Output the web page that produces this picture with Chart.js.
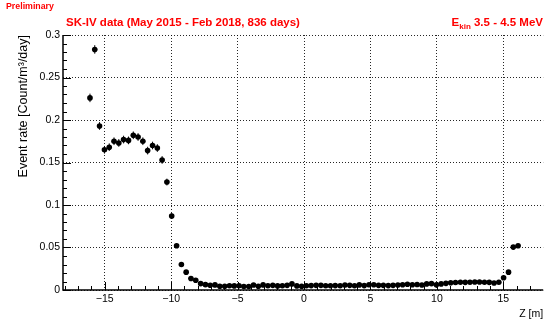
<!DOCTYPE html>
<html lang="en">
<head>
    <meta charset="UTF-8">
    <title>SK-IV event rate vs Z</title>
    <script src="https://cdn.jsdelivr.net/npm/chart.js"></script>
    <style>
        body { margin: 0; background: #fff; }
        #wrap { position: relative; width: 546px; height: 320px; font-family: "Liberation Sans", Arial, sans-serif; }
        .red { position: absolute; color: #ff0000; font-weight: bold; white-space: nowrap; }
        #prelim { left: 6px; top: 1px; font-size: 8.8px; }
        #title { left: 66px; top: 16px; font-size: 11.5px; }
        #ekin { right: 3px; top: 16px; font-size: 11.5px; }
        #ekin sub { font-size: 8px; vertical-align: -3px; }
    </style>
</head>
<body>
<div id="wrap">
    <canvas id="zChart" width="546" height="320"></canvas>
    <div class="red" id="prelim">Preliminary</div>
    <div class="red" id="title">SK-IV data (May 2015 - Feb 2018, 836 days)</div>
    <div class="red" id="ekin">E<sub>kin</sub> 3.5 - 4.5 MeV</div>
</div>
<script>
    // bin centres in Z [m]
    const zBins = [
        -16.11, -15.75, -15.39, -15.02, -14.66, -14.30, -13.94, -13.58, -13.21, -12.85,
        -12.49, -12.13, -11.77, -11.40, -11.04, -10.68, -10.32, -9.96, -9.59, -9.23,
        -8.87, -8.51, -8.15, -7.78, -7.42, -7.06, -6.70, -6.34, -5.97, -5.61,
        -5.25, -4.89, -4.53, -4.16, -3.80, -3.44, -3.08, -2.72, -2.35, -1.99,
        -1.63, -1.27, -0.91, -0.54, -0.18, 0.18, 0.54, 0.91, 1.27, 1.63,
        1.99, 2.35, 2.72, 3.08, 3.44, 3.80, 4.16, 4.53, 4.89, 5.25,
        5.61, 5.97, 6.34, 6.70, 7.06, 7.42, 7.78, 8.15, 8.51, 8.87,
        9.23, 9.59, 9.96, 10.32, 10.68, 11.04, 11.40, 11.77, 12.13, 12.49,
        12.85, 13.21, 13.58, 13.94, 14.30, 14.66, 15.02, 15.39, 15.75, 16.11
    ];
    // event rate [count/m3/day]
    const eventRate = [
        0.226, 0.283, 0.193, 0.165, 0.168, 0.175, 0.173, 0.177, 0.176, 0.182,
        0.180, 0.175, 0.164, 0.170, 0.167, 0.153, 0.127, 0.087, 0.052, 0.030,
        0.021, 0.0135, 0.0115, 0.0075, 0.0063, 0.0056, 0.0060, 0.0045, 0.0045, 0.0050,
        0.0048, 0.0050, 0.0042, 0.0042, 0.0058, 0.0045, 0.0060, 0.0050, 0.0055, 0.0048,
        0.0050, 0.0055, 0.0072, 0.0048, 0.0045, 0.0050, 0.0052, 0.0055, 0.0055, 0.0050,
        0.0050, 0.0052, 0.0050, 0.0058, 0.0055, 0.0050, 0.0060, 0.0052, 0.0062, 0.0062,
        0.0055, 0.0055, 0.0052, 0.0055, 0.0058, 0.0062, 0.0068, 0.0062, 0.0065, 0.0058,
        0.0072, 0.0075, 0.0062, 0.0072, 0.0078, 0.0085, 0.0088, 0.0092, 0.0090, 0.0092,
        0.0095, 0.0095, 0.0092, 0.0090, 0.0082, 0.0092, 0.0145, 0.0210, 0.0505, 0.0520
    ];
    const rateError = [
        0.005, 0.005, 0.0045, 0.0045, 0.0045, 0.0045, 0.0045, 0.0045, 0.0045, 0.0045,
        0.0045, 0.0045, 0.0045, 0.0045, 0.0045, 0.0045, 0.004, 0.0035, 0.0025, 0.002,
        0.0015, 0.0012, 0.0012, 0.001, 0.001, 0.001, 0.001, 0.001, 0.001, 0.001,
        0.001, 0.001, 0.001, 0.001, 0.001, 0.001, 0.001, 0.001, 0.001, 0.001,
        0.001, 0.001, 0.001, 0.001, 0.001, 0.001, 0.001, 0.001, 0.001, 0.001,
        0.001, 0.001, 0.001, 0.001, 0.001, 0.001, 0.001, 0.001, 0.001, 0.001,
        0.001, 0.001, 0.001, 0.001, 0.001, 0.001, 0.001, 0.001, 0.001, 0.001,
        0.001, 0.001, 0.001, 0.001, 0.001, 0.001, 0.001, 0.001, 0.001, 0.001,
        0.001, 0.001, 0.001, 0.001, 0.001, 0.001, 0.0012, 0.0015, 0.0022, 0.0022
    ];
    const binHalfWidth = 0.181;
    const xTickLabels = { '-15': '\u221215', '-10': '\u221210', '-5': '\u22125', '0': '0', '5': '5', '10': '10', '15': '15' };
    const yTickLabels = ['0', '0.05', '0.1', '0.15', '0.2', '0.25', '0.3'];

    const tickFont = { family: '"Liberation Sans", Arial, sans-serif', size: 10.5 };

    // ROOT style frame: inner ticks, solid left/bottom frame, error bars
    const rootFrame = {
        id: 'rootFrame',
        beforeDatasetsDraw(chart) {
            const ctx = chart.ctx, xs = chart.scales.x, ys = chart.scales.y;
            ctx.save();
            ctx.strokeStyle = '#000';
            ctx.lineWidth = 1;
            ctx.beginPath();
            zBins.forEach((z, i) => {
                const px = xs.getPixelForValue(z);
                const py = ys.getPixelForValue(eventRate[i]);
                ctx.moveTo(px, ys.getPixelForValue(eventRate[i] - rateError[i]));
                ctx.lineTo(px, ys.getPixelForValue(eventRate[i] + rateError[i]));
                ctx.moveTo(xs.getPixelForValue(z - binHalfWidth), py);
                ctx.lineTo(xs.getPixelForValue(z + binHalfWidth), py);
            });
            ctx.stroke();
            ctx.restore();
        },
        afterDraw(chart) {
            const ctx = chart.ctx, a = chart.chartArea;
            const xs = chart.scales.x, ys = chart.scales.y;
            ctx.save();
            ctx.strokeStyle = '#000';
            ctx.lineWidth = 1;
            ctx.beginPath();
            for (let k = 0; k <= 30; k++) {
                const py = Math.round(ys.getPixelForValue(k / 100)) + 0.5;
                const len = k % 5 === 0 ? 8 : 4;
                ctx.moveTo(a.left, py);
                ctx.lineTo(a.left + len, py);
            }
            for (let v = -18; v <= 18; v++) {
                const px = Math.round(xs.getPixelForValue(v)) + 0.5;
                if (px < a.left || px > a.right) continue;
                const len = v % 5 === 0 ? 8 : 4;
                ctx.moveTo(px, a.bottom);
                ctx.lineTo(px, a.bottom - len);
            }
            ctx.stroke();
            ctx.lineWidth = 1.5;
            ctx.beginPath();
            ctx.moveTo(a.left, a.top);
            ctx.lineTo(a.left, a.bottom);
            ctx.lineTo(a.right, a.bottom);
            ctx.stroke();
            ctx.restore();
        }
    };

    const ctx = document.getElementById('zChart').getContext('2d');
    const zChart = new Chart(ctx, {
        type: 'scatter',
        data: {
            datasets: [{
                data: zBins.map((z, i) => ({ x: z, y: eventRate[i] })),
                backgroundColor: '#000',
                borderColor: '#000',
                borderWidth: 0,
                pointRadius: 2.8,
                pointHoverRadius: 2.8
            }]
        },
        options: {
            responsive: false,
            animation: false,
            events: [],
            layout: { padding: { top: 35, left: 0, right: 0, bottom: 0 } },
            plugins: { legend: { display: false }, tooltip: { enabled: false } },
            scales: {
                x: {
                    type: 'linear',
                    min: -18.14,
                    max: 18.0,
                    afterFit: s => { s.height = 30; },
                    ticks: {
                        stepSize: 5,
                        includeBounds: false,
                        padding: 3,
                        color: '#000',
                        font: tickFont,
                        maxRotation: 0,
                        callback: v => xTickLabels[String(v)] ?? ''
                    },
                    grid: { color: 'rgba(0,0,0,0.85)', lineWidth: 1, drawTicks: false },
                    border: { display: false, dash: [1, 2] },
                    title: {
                        display: true, text: 'Z [m]', align: 'end', color: '#000',
                        font: tickFont, padding: { top: 0, bottom: 0 }
                    }
                },
                y: {
                    min: 0,
                    max: 0.3,
                    afterFit: s => { s.width = 63; },
                    ticks: {
                        stepSize: 0.05,
                        padding: 3,
                        color: '#000',
                        font: tickFont,
                        callback: v => yTickLabels[Math.round(v / 0.05)]
                    },
                    grid: { color: 'rgba(0,0,0,0.85)', lineWidth: 1, drawTicks: false },
                    border: { display: false, dash: [1, 2] },
                    title: {
                        display: true, text: 'Event rate [Count/m\u00b3/day]', align: 'end', color: '#000',
                        font: { family: '"Liberation Sans", Arial, sans-serif', size: 12.5 },
                        padding: { top: 16, bottom: 0 }
                    }
                }
            }
        },
        plugins: [rootFrame]
    });
</script>
</body>
</html>
